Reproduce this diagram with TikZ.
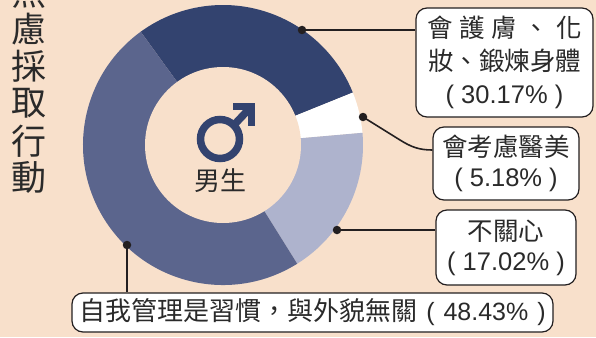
\documentclass[tikz,border=0pt]{standalone}
\usepackage{fontspec}
\setmainfont{Liberation Sans}
\newfontfamily\cjk{Noto Sans CJK TC}
\usetikzlibrary{calc}
\definecolor{bg}{HTML}{F8E0CB}
\definecolor{segdark}{HTML}{33436F}
\definecolor{segmid}{HTML}{5B658D}
\definecolor{seglight}{HTML}{AEB3CD}
\definecolor{ink}{HTML}{231F20}
\definecolor{txt}{HTML}{2A2A2A}
\begin{document}
\begin{tikzpicture}[x=1pt,y=1pt,
  dot/.style={circle,fill=ink,inner sep=0pt,minimum size=8.5pt},
  conn/.style={draw=ink,line width=1.6pt},
  box/.style={draw=ink,line width=1.2pt,fill=white,rounded corners=11pt,inner sep=0pt,align=center,text=txt,font=\fontsize{25.5}{33}\selectfont},
  symline/.style={draw=segdark,line width=7.5pt},
  vtitle/.style={text=txt,inner sep=0pt,font=\fontsize{35}{37}\selectfont\cjk}]
\useasboundingbox (0,-337) rectangle (596,0);
\clip (0,-337) rectangle (596,0);
\fill[bg] (0,-337) rectangle (596,0);
% donut
\coordinate (C) at (223,-145);
\fill[segdark] (C) -- ++(126:140) arc[start angle=126,end angle=22,radius=140] -- cycle;
\fill[white] (C) -- ++(22:140) arc[start angle=22,end angle=5,radius=140] -- cycle;
\fill[seglight] (C) -- ++(5:140) arc[start angle=5,end angle=-58,radius=140] -- cycle;
\fill[segmid] (C) -- ++(-58:140) arc[start angle=-58,end angle=-234,radius=140] -- cycle;
\fill[bg] (C) circle[radius=78];
% male symbol
\coordinate (M) at (220,-139);
\draw[symline] (M) circle[radius=19.5];
\draw[symline] ($(M)+(45:19.5)$) -- (250,-108);
\draw[symline,line join=miter] (233,-106.5) -- (251.5,-106.5) -- (251.5,-126);
\node[text=txt,inner sep=0pt,font=\fontsize{26}{30}\selectfont\cjk] (male) at (220,-181) {男生};
% vertical title
\foreach \c/\y/\n in {焦/-8/t1,慮/29/t2,採/66/t3,取/103/t4,行/141/t5,動/177/t6}
  \node[vtitle] (\n) at (29,-\y) {\c};
% dots
\node[dot] (d1) at (302,-30) {};
\node[dot] (d2) at (363,-117) {};
\node[dot] (d3) at (337,-230) {};
\node[dot] (d4) at (127,-245) {};
\coordinate (k2) at (400,-140);
\coordinate (y2) at (0,-150);
% boxes
\node[box,minimum width=177pt,minimum height=109pt] (b1) at (504.5,-62.5)
  {{\cjk\makebox[154pt][s]{會\hfill 護\hfill 膚\hfill 、\hfill 化}}\\{\cjk 妝、鍛煉身體}\\( 30.17\% )};
\node[box,minimum width=146pt,minimum height=73pt,font=\fontsize{25.5}{30}\selectfont] (b2) at (506,-163.5)
  {{\cjk 會考慮醫美}\\( 5.18\% )};
\node[box,minimum width=140pt,minimum height=75pt,font=\fontsize{25.5}{30}\selectfont] (b3) at (506,-247.5)
  {{\cjk 不關心}\\( 17.02\% )};
\node[box,minimum width=481pt,minimum height=39pt,font=\fontsize{26}{30}\selectfont] (b4) at (312.5,-312.5)
  {{\cjk 自我管理是習慣，與外貌無關}\hspace{9pt}{\fontsize{25}{30}\selectfont(\hspace{2pt} 48.43\%\hspace{2pt} )}};
% connectors
\draw[conn] (d1.center) -- (d1.center -| b1.west);
\draw[conn] (d2.center) -- (k2) to[out=-32,in=180] (b2.west |- y2);
\draw[conn] (d3.center) -- (d3.center -| b3.west);
\draw[conn] (d4.center) -- (d4.center |- b4.north);
\end{tikzpicture}
\end{document}
